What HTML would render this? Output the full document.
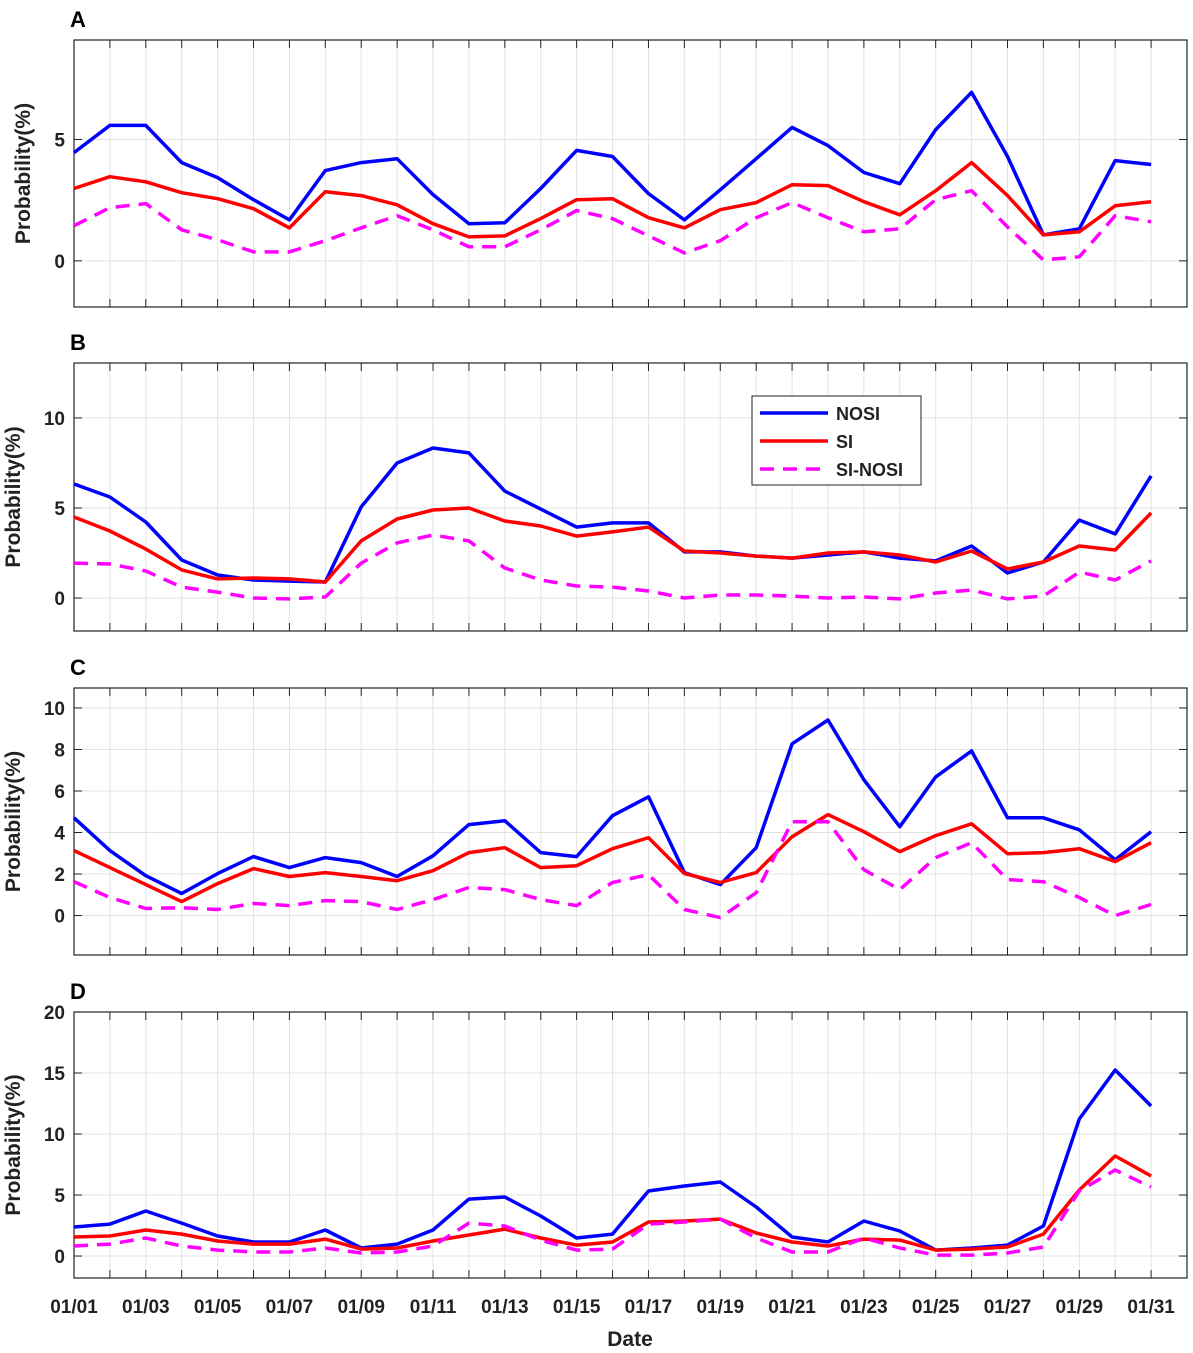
<!DOCTYPE html>
<html><head><meta charset="utf-8"><style>
body{margin:0;background:#fff}
svg{display:block;font-family:"Liberation Sans",Arial,sans-serif}
</style></head><body>
<svg id="chart" width="1193" height="1353" viewBox="0 0 1193 1353" xmlns="http://www.w3.org/2000/svg"></svg>
<script>
const days = Array.from({length:31},(_,i)=>i+1);
const xTickLabels = ["01/01","01/03","01/05","01/07","01/09","01/11","01/13","01/15","01/17","01/19","01/21","01/23","01/25","01/27","01/29","01/31"];
const aNosi=[4.46,5.58,5.58,4.05,3.43,2.52,1.69,3.72,4.05,4.21,2.73,1.53,1.57,2.98,4.55,4.30,2.77,1.69,2.93,4.21,5.50,4.75,3.64,3.18,5.41,6.94,4.30,1.07,1.32,4.13,3.97];
const aSi=[2.98,3.47,3.26,2.81,2.56,2.15,1.36,2.85,2.69,2.31,1.53,0.99,1.03,1.74,2.52,2.56,1.78,1.36,2.11,2.40,3.14,3.10,2.44,1.90,2.89,4.05,2.69,1.07,1.20,2.27,2.44];
const aDiff=[1.45,2.19,2.36,1.28,0.87,0.37,0.37,0.83,1.36,1.86,1.28,0.58,0.58,1.28,2.07,1.74,1.03,0.33,0.83,1.78,2.40,1.78,1.20,1.32,2.52,2.89,1.40,0.04,0.17,1.86,1.61];
const bNosi=[6.33,5.61,4.22,2.11,1.28,1.0,0.94,0.89,5.06,7.5,8.33,8.06,5.94,4.94,3.94,4.17,4.17,2.56,2.56,2.33,2.22,2.39,2.56,2.22,2.06,2.89,1.39,2.0,4.33,3.56,6.78];
const bSi=[4.5,3.72,2.72,1.56,1.06,1.11,1.06,0.89,3.17,4.39,4.89,5.0,4.28,4.0,3.44,3.67,3.94,2.61,2.5,2.33,2.22,2.5,2.56,2.39,2.0,2.61,1.61,2.0,2.89,2.67,4.72];
const bDiff=[1.94,1.89,1.5,0.61,0.33,0.0,-0.05,0.06,1.94,3.06,3.5,3.17,1.67,1.0,0.67,0.61,0.39,0.0,0.17,0.17,0.11,0.0,0.06,-0.05,0.28,0.44,-0.05,0.11,1.44,1.0,2.06];
const cNosi=[4.71,3.13,1.92,1.06,2.02,2.84,2.31,2.79,2.55,1.88,2.88,4.38,4.57,3.03,2.84,4.81,5.72,2.07,1.49,3.27,8.27,9.42,6.54,4.28,6.68,7.93,4.71,4.71,4.13,2.69,4.04];
const cSi=[3.13,2.31,1.49,0.67,1.54,2.26,1.88,2.07,1.88,1.68,2.16,3.03,3.27,2.31,2.40,3.22,3.75,2.02,1.59,2.07,3.80,4.86,4.04,3.08,3.85,4.42,2.98,3.03,3.22,2.60,3.51];
const cDiff=[1.63,0.87,0.34,0.38,0.29,0.58,0.48,0.72,0.67,0.29,0.77,1.35,1.25,0.77,0.48,1.59,1.97,0.29,-0.1,1.1,4.52,4.52,2.21,1.25,2.79,3.51,1.73,1.63,0.87,0.0,0.53];
const dNosi=[2.38,2.62,3.69,2.70,1.64,1.15,1.15,2.13,0.66,0.98,2.13,4.67,4.84,3.28,1.48,1.80,5.33,5.74,6.07,4.02,1.56,1.15,2.87,2.05,0.49,0.66,0.90,2.46,11.23,15.25,12.30];
const dSi=[1.56,1.64,2.13,1.80,1.23,0.98,0.98,1.39,0.57,0.66,1.23,1.72,2.21,1.48,0.90,1.15,2.79,2.87,3.03,1.89,1.15,0.82,1.39,1.31,0.49,0.57,0.74,1.80,5.41,8.2,6.56];
const dDiff=[0.82,0.98,1.48,0.82,0.49,0.33,0.33,0.66,0.25,0.33,0.82,2.70,2.46,1.31,0.49,0.57,2.62,2.79,3.03,1.48,0.33,0.33,1.48,0.66,0.08,0.08,0.25,0.74,5.33,7.05,5.66];
const aTicks=[0,5], bTicks=[0,5,10], cTicks=[0,2,4,6,8,10], dTicks=[0,5,10,15,20];

const svg=document.getElementById('chart');
const NS='http://www.w3.org/2000/svg';
function mk(tag,attrs,parent){const e=document.createElementNS(NS,tag);for(const k in attrs)e.setAttribute(k,attrs[k]);(parent||svg).appendChild(e);return e;}
const X0=74,X1=1187,XMIN=1,XMAX=32;
const xs=d=>X0+(d-XMIN)/(XMAX-XMIN)*(X1-X0);

const panels=[
 {letter:'A',top:40,bot:307,ymin:-1.9,ymax:9.1,ticks:aTicks,s:[aNosi,aSi,aDiff]},
 {letter:'B',top:363,bot:631,ymin:-1.83,ymax:13.05,ticks:bTicks,s:[bNosi,bSi,bDiff]},
 {letter:'C',top:688,bot:955,ymin:-1.9,ymax:10.96,ticks:cTicks,s:[cNosi,cSi,cDiff]},
 {letter:'D',top:1012,bot:1278,ymin:-1.8,ymax:20,ticks:dTicks,s:[dNosi,dSi,dDiff]}
];
const styles=[{c:'#0000ff',dash:''},{c:'#ff0000',dash:''},{c:'#ff00ff',dash:'14,9'}];
const names=['nosi','si','si-nosi'];
panels.forEach((p,pi)=>{
 const g=mk('g',{});
 
 
 const ys=v=>p.bot-(v-p.ymin)/(p.ymax-p.ymin)*(p.bot-p.top);
 for(let d=1;d<=31;d++){
  mk('line',{x1:xs(d),x2:xs(d),y1:p.top,y2:p.bot,stroke:'#e3e3e3','stroke-width':1},g);
 }
 p.ticks.forEach(t=>{
  mk('line',{x1:X0,x2:X1,y1:ys(t),y2:ys(t),stroke:'#e3e3e3','stroke-width':1},g);
  mk('line',{x1:X0,x2:X0+8,y1:ys(t),y2:ys(t),stroke:'#222','stroke-width':1},g);
  mk('line',{x1:X1-8,x2:X1,y1:ys(t),y2:ys(t),stroke:'#222','stroke-width':1},g);
  const tl=mk('text',{x:X0-9,y:ys(t)+7,'text-anchor':'end','font-size':19,'font-weight':'bold',fill:'#222'},g);
  tl.textContent=t;
  
  
 });
 for(let d=1;d<=31;d++){
  mk('line',{x1:xs(d),x2:xs(d),y1:p.bot,y2:p.bot-8,stroke:'#222','stroke-width':1},g);
  mk('line',{x1:xs(d),x2:xs(d),y1:p.top,y2:p.top+8,stroke:'#222','stroke-width':1},g);
 }
 mk('rect',{x:X0,y:p.top,width:X1-X0,height:p.bot-p.top,fill:'none',stroke:'#222','stroke-width':1.2},g);
 p.s.forEach((arr,si)=>{
  const pts=arr.map((v,i)=>xs(days[i]).toFixed(1)+','+ys(v).toFixed(1)).join(' ');
  const l=mk('polyline',{points:pts,fill:'none',stroke:styles[si].c,'stroke-width':3.5,'stroke-dasharray':styles[si].dash,'stroke-linejoin':'round'},g);
  
  
 });
 const lt=mk('text',{x:70,y:p.top-13,'font-size':22,'font-weight':'bold',fill:'#000'},g);
 lt.textContent=p.letter;
 
 
 const cy=(p.top+p.bot)/2;
 const yl=mk('text',{x:0,y:0,transform:`translate(${pi==0?30:20},${cy}) rotate(-90)`,'text-anchor':'middle','font-size':21,'font-weight':'bold',fill:'#222'},g);
 yl.textContent='Probability(%)';
 
 
});
xTickLabels.forEach((s,i)=>{
 const t=mk('text',{x:xs(1+2*i),y:1313,'text-anchor':'middle','font-size':19,'font-weight':'bold',fill:'#222'});
 t.textContent=s;
 
 
});
const xt=mk('text',{x:630,y:1346,'text-anchor':'middle','font-size':21,'font-weight':'bold',fill:'#222'});
xt.textContent='Date';


const lg=mk('g',{});


mk('rect',{x:752,y:396,width:169,height:89,fill:'#fff',stroke:'#222','stroke-width':1},lg);
['NOSI','SI','SI-NOSI'].forEach((n,i)=>{
 const y=413+i*28;
 mk('line',{x1:760,x2:828,y1:y,y2:y,stroke:styles[i].c,'stroke-width':3.5,'stroke-dasharray':styles[i].dash},lg);
 const t=mk('text',{x:836,y:y+7,'font-size':18,'font-weight':'bold',fill:'#222'},lg);
 t.textContent=n;
 
 
});
</script>
</body></html>
